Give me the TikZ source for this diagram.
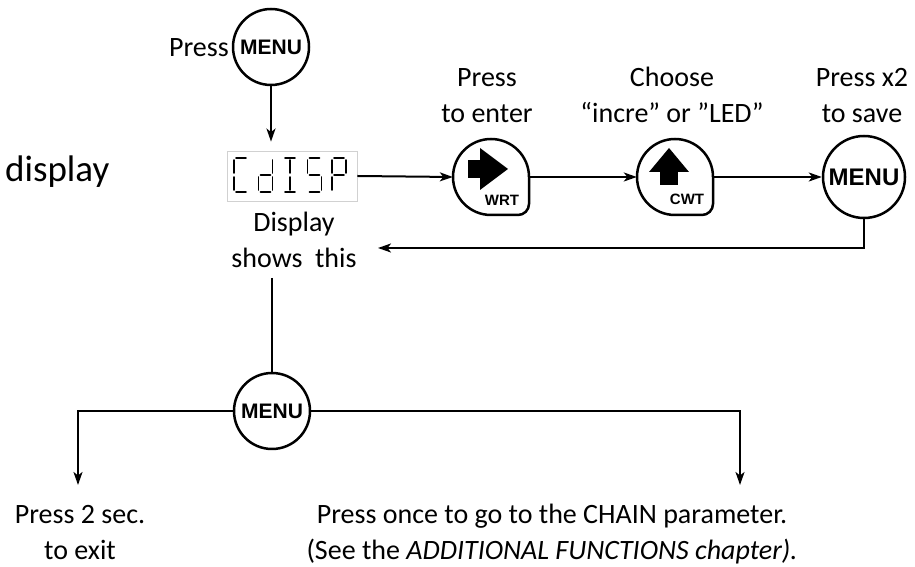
\documentclass[tikz,border=0pt]{standalone}
\usepackage{fontspec}
\setmainfont{Carlito}
\newfontfamily\keyfont{Liberation Sans}
\usetikzlibrary{arrows.meta}

\tikzset{
  txt/.style={font=\fontsize{28}{34}\selectfont, inner sep=0pt},
  keyring/.style={circle, draw, line width=2.5pt, inner sep=0pt, minimum size=76pt,
    font=\keyfont\bfseries\fontsize{21}{21}\selectfont},
  keyspot/.style={circle, inner sep=0pt, minimum size=76pt},
  keytag/.style={inner sep=0pt, font=\keyfont\bfseries\fontsize{15}{15}\selectfont},
  conn/.style={line width=2pt},
  arr/.style={conn, -{Stealth[length=13pt,width=9pt,inset=3.5pt]}},
  seg/.style={line width=1.8pt, line cap=round},
  % rounded key with a squared lower-right corner
  keypad/.pic={
    \draw[line width=2.5pt, line join=round]
      (38,0) -- (38,-27) arc[start angle=0, end angle=-90, radius=11]
      -- (0,-38) arc[start angle=270, end angle=0, radius=38] -- cycle;
  },
  % seven-segment pieces of one digit cell (14 wide, 34 high)
  seg a/.pic={\draw[seg] (2,34) -- (12,34);},
  seg b/.pic={\draw[seg] (14,32) -- (14,19);},
  seg c/.pic={\draw[seg] (14,15) -- (14,2);},
  seg d/.pic={\draw[seg] (2,0) -- (12,0);},
  seg e/.pic={\draw[seg] (0,15) -- (0,2);},
  seg f/.pic={\draw[seg] (0,32) -- (0,19);},
  seg g/.pic={\draw[seg] (2,17) -- (12,17);},
  seg i/.pic={\draw[seg] (7,32) -- (7,19); \draw[seg] (7,15) -- (7,2);},
}

\newcommand{\lcdchar}[2]{%
  \begin{scope}[shift={(#1,375)}, xslant=0.12]
    \foreach \s in {#2} {\pic {seg \s};}
  \end{scope}}

\begin{document}
\begin{tikzpicture}[x=1pt,y=1pt]
\useasboundingbox (0,0) rectangle (915,567);

% ---- top: enter the menu ----
\node[keyring] (menuA) at (271,520) {MENU};
\node[txt, anchor=base east] (pressA) at (229,510) {Press};

\node[txt, anchor=base west, font=\fontsize{37}{42}\selectfont] (dispword) at (5,385) {display};

% display window with CdISP
\node[draw=black!18, line width=0.8pt, minimum width=130pt, minimum height=50pt, inner sep=0pt]
  (disp) at (292,391) {};
\lcdchar{234}{a,f,e,d}
\lcdchar{258.5}{b,c,d,e,g}
\lcdchar{283}{a,i,d}
\lcdchar{307.5}{a,f,g,c,d}
\lcdchar{332}{a,b,f,g,e}

\node[txt, anchor=base] (capA) at (294,335) {Display};
\node[txt, anchor=base] (capB) at (294,299) {shows\hspace{0.45em}this};
\coordinate (capbot) at (272,289);

\draw[arr] (menuA.south) -- ([yshift=9pt]menuA.south |- disp.north);

% ---- keys along the top row ----
\node[keyspot] (wrt) at (491,390) {};
\pic at (wrt.center) {keypad};
\fill ([shift={(-23,-1)}]wrt.center) rectangle ([shift={(-10,17)}]wrt.center);
\fill ([shift={(-11,-13)}]wrt.center) -- ([shift={(17,8)}]wrt.center)
  -- ([shift={(-11,29)}]wrt.center) -- cycle;
\node[keytag] (wrttag) at ([shift={(11,-23)}]wrt.center) {WRT};

\node[keyspot] (cwt) at (675,390) {};
\pic at (cwt.center) {keypad};
\fill ([shift={(-15,-8)}]cwt.center) rectangle ([shift={(3,6)}]cwt.center);
\fill ([shift={(-26,5)}]cwt.center) -- ([shift={(-6,29)}]cwt.center)
  -- ([shift={(14,5)}]cwt.center) -- cycle;
\node[keytag] (cwttag) at ([shift={(12,-22)}]cwt.center) {CWT};

\node[keyring, minimum size=82pt, font=\keyfont\bfseries\fontsize{24}{24}\selectfont]
  (menuC) at (864,390) {MENU};

\node[txt, anchor=base] (t1a) at (487,480) {Press};
\node[txt, anchor=base] (t1b) at (487,444) {to enter};
\node[txt, anchor=base] (t2a) at (672,480) {Choose};
\node[txt, anchor=base] (t2b) at (672,444) {“incre” or ”LED”};
\node[txt, anchor=base] (t3a) at (862,480) {Press x2};
\node[txt, anchor=base] (t3b) at (862,444) {to save};

\draw[arr] (disp.east) -- (wrt.west);
\draw[arr] (wrt.east) -- (cwt.west);
\draw[arr] (cwt.east) -- (menuC.west);
\coordinate (back) at (378,319);
\draw[arr] (menuC.south) |- (back);

% ---- lower part: leave or go on ----
\node[keyring] (menuB) at (272,156) {MENU};
\draw[conn] (capbot) -- (menuB.north);

\coordinate (exitTip) at (78,82);
\coordinate (chainTip) at (740,82);
\draw[arr] (menuB.west) -| (exitTip);
\draw[arr] (menuB.east) -| (chainTip);

\node[txt, anchor=base] (b1a) at (80,43) {Press 2 sec.};
\node[txt, anchor=base] (b1b) at (80,7) {to exit};
\node[txt, anchor=base] (b2a) at (552,43) {Press once to go to the CHAIN parameter.};
\node[txt, anchor=base] (b2b) at (552,7) {(See the \textit{ADDITIONAL FUNCTIONS chapter).}};
\end{tikzpicture}
\end{document}
